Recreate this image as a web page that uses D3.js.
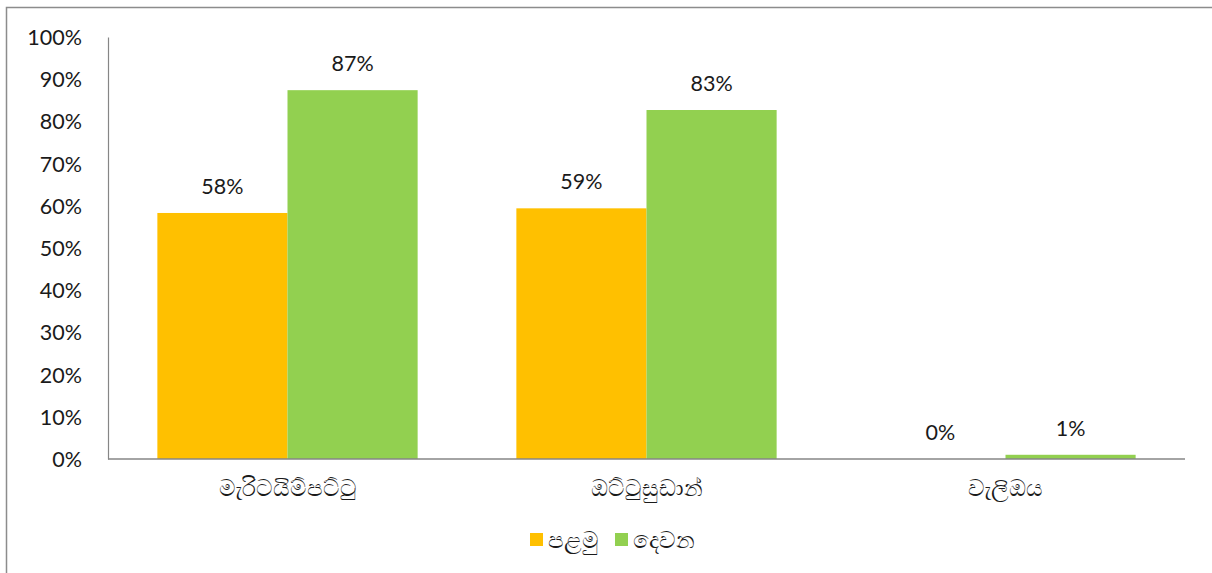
<!DOCTYPE html>
<html>
<head>
<meta charset="utf-8">
<script src="https://cdn.jsdelivr.net/npm/d3@7"></script>
<style>
  body { margin: 0; background: #fff; }
  svg text { font-family: Lato, "Liberation Sans", sans-serif; fill: #1a1a1a; }
</style>
</head>
<body>
<div id="chart"></div>
<script>
var categories = ['මැරිටයිම්පට්ටු', 'ඔට්ටුසුඩාන්', 'වැලිඔය'];
var seriesNames = ['පළමු', 'දෙවන'];
var firstVals = [0.583, 0.594, 0];
var secondVals = [0.874, 0.827, 0.01];
var yTicks = [0, 0.1, 0.2, 0.3, 0.4, 0.5, 0.6, 0.7, 0.8, 0.9, 1.0];

var col_orange = '#FFC000';
var col_green  = '#92D050';
var col_axis   = '#868686';

var width = 1212, height = 573;
var margin = {left: 108, right: 27, top: 37, bottom: 114};

var svg = d3.select('#chart').append('svg')
    .attr('width', width)
    .attr('height', height);

// outer frame
svg.append('rect')
    .attr('x', 6.5).attr('y', 7.5)
    .attr('width', 1210).attr('height', 600)
    .attr('fill', 'none')
    .attr('stroke', '#8c8c8c')
    .attr('stroke-width', 1.5);

var x0 = d3.scaleBand()
    .domain(categories)
    .range([margin.left, width - margin.right])
    .paddingInner(0.275)
    .paddingOuter(0.1375);

var x1 = d3.scaleBand()
    .domain([0, 1])
    .range([0, x0.bandwidth()]);

var y = d3.scaleLinear()
    .domain([0, 1])
    .range([height - margin.bottom, margin.top]);

var pct = d3.format('.0%');

// y axis
var yAxis = svg.append('g')
    .attr('transform', 'translate(' + margin.left + ',0)')
    .call(d3.axisLeft(y).tickValues(yTicks).tickFormat(pct).tickSize(0).tickPadding(26));
yAxis.select('.domain').attr('stroke', col_axis).attr('stroke-width', 1.2);
yAxis.selectAll('text').style('font-size', '21.5px').attr('dy', '0.35em');

var data = categories.map(function(c, i) {
    return {cat: c, vals: [firstVals[i], secondVals[i]]};
});

var colors = [col_orange, col_green];

var groups = svg.selectAll('.grp')
    .data(data)
    .enter().append('g')
    .attr('class', 'grp')
    .attr('transform', function(d) { return 'translate(' + x0(d.cat) + ',0)'; });

groups.selectAll('rect')
    .data(function(d) { return d.vals.map(function(v, k) { return {k: k, v: v}; }); })
    .enter().append('rect')
    .attr('x', function(d) { return x1(d.k); })
    .attr('y', function(d) { return y(d.v); })
    .attr('width', x1.bandwidth())
    .attr('height', function(d) { return y(0) - y(d.v); })
    .attr('fill', function(d) { return colors[d.k]; });

groups.selectAll('.lbl')
    .data(function(d) { return d.vals.map(function(v, k) { return {k: k, v: v}; }); })
    .enter().append('text')
    .attr('class', 'lbl')
    .attr('x', function(d) { return x1(d.k) + x1.bandwidth() / 2; })
    .attr('y', function(d) { return y(d.v) - 19; })
    .attr('text-anchor', 'middle')
    .style('font-size', '21.5px')
    .text(function(d) { return pct(d.v); });

// x axis
var xAxis = svg.append('g')
    .attr('transform', 'translate(0,' + y(0) + ')')
    .call(d3.axisBottom(x0).tickSize(0).tickSizeOuter(0).tickPadding(21));
xAxis.select('.domain').attr('stroke', col_axis).attr('stroke-width', 1.5)
    .attr('d', 'M' + margin.left + ',0H' + (width - margin.right));
xAxis.selectAll('text').style('font-size', '22.5px');

// legend
var legendX = [530, 615];
var legend = svg.selectAll('.leg')
    .data(seriesNames)
    .enter().append('g')
    .attr('class', 'leg')
    .attr('transform', function(d, i) { return 'translate(' + legendX[i] + ',533)'; });
legend.append('rect')
    .attr('width', 13).attr('height', 13)
    .attr('fill', function(d, i) { return colors[i]; });
legend.append('text')
    .attr('x', 18).attr('y', 7)
    .attr('dy', '0.35em')
    .style('font-size', '22.5px')
    .text(function(d) { return d; });
</script>
</body>
</html>
